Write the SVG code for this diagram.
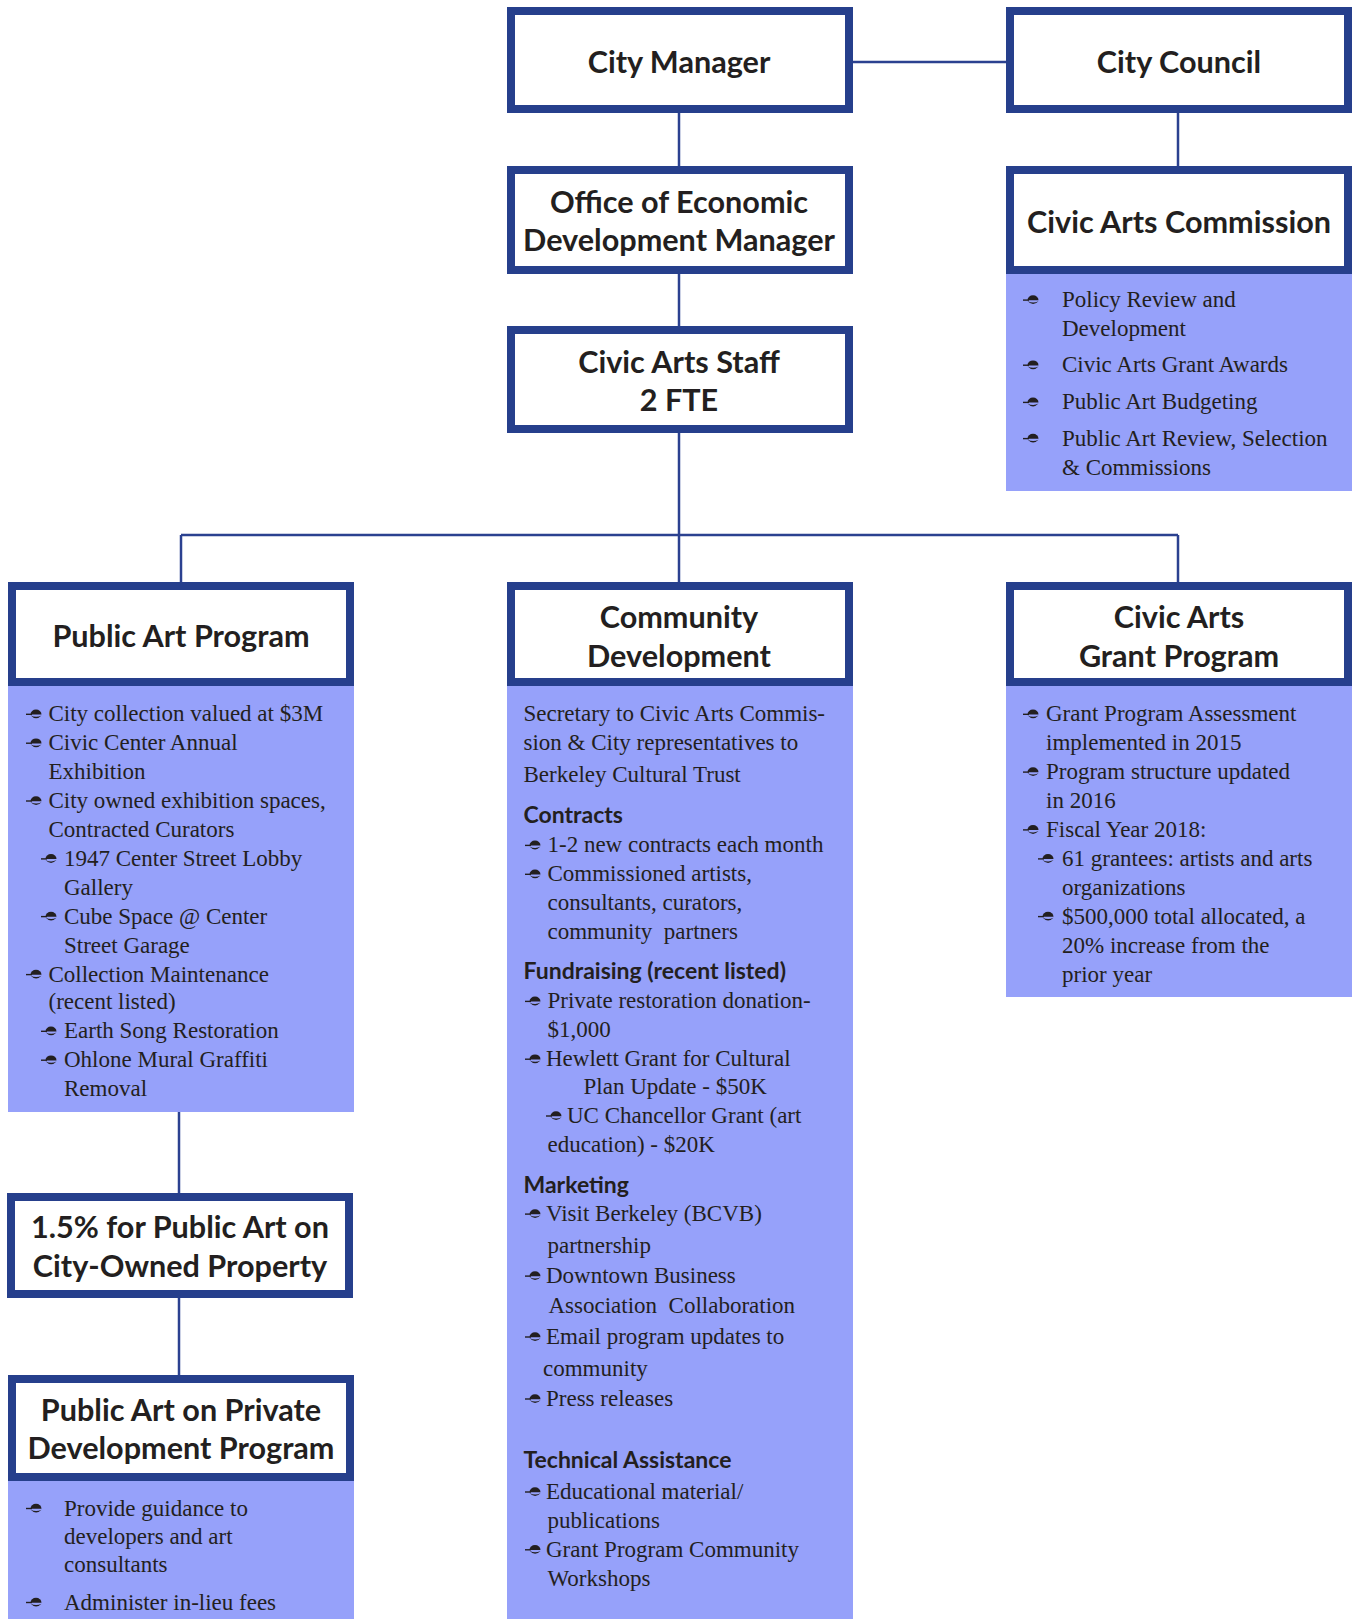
<svg xmlns="http://www.w3.org/2000/svg" xmlns:xlink="http://www.w3.org/1999/xlink" width="1354" height="1619" viewBox="0 0 1354 1619">
<style>
.box{fill:#ffffff;stroke:#263f8c;stroke-width:8}
.pane{fill:#96a1fa}
.ttl{font-family:Lato,"Open Sans",sans-serif;font-weight:700;font-size:30.6px;fill:#231f20;text-anchor:middle}
.hd{font-family:Lato,"Open Sans",sans-serif;font-weight:700;font-size:23px;fill:#231f20}
.tx{font-family:"Liberation Serif","Times New Roman",serif;font-size:23px;fill:#231f20}
.ln{stroke:#2b4190;stroke-width:2.5;fill:none}
</style>
<defs>
<g id="bl">
<path d="M-8,0.6 H-2" stroke="#231f20" stroke-width="1.4"/>
<path d="M-3.5,0.8 A5.5,5 0 0 1 7.5,0.8 Z" fill="#231f20"/>
<path d="M-3.5,1.6 Q2,7.5 7.5,1.8 Q2,4.5 -3.5,1.6 Z" fill="#231f20"/>
</g>
</defs>
<rect width="1354" height="1619" fill="#ffffff"/>
<g id="connectors">
<path class="ln" d="M853,62 H1006"/>
<path class="ln" d="M679,113 V166"/>
<path class="ln" d="M679,274 V326"/>
<path class="ln" d="M679,433 V582"/>
<path class="ln" d="M181,535 H1178"/>
<path class="ln" d="M181,535 V582"/>
<path class="ln" d="M1178,535 V582"/>
<path class="ln" d="M1178,113 V166"/>
<path class="ln" d="M179,1112 V1193"/>
<path class="ln" d="M179,1298 V1375"/>
</g>
<g id="city-manager">
<rect class="box" x="511" y="11" width="338" height="98"/>
<text class="ttl" x="679" y="72.5">City Manager</text>
</g>
<g id="city-council">
<rect class="box" x="1010" y="11" width="338" height="98"/>
<text class="ttl" x="1179" y="72.5">City Council</text>
</g>
<g id="office-econ-dev">
<rect class="box" x="511" y="170" width="338" height="100"/>
<text class="ttl" x="679" y="212.5">Office of Economic</text>
<text class="ttl" x="679" y="251">Development Manager</text>
</g>
<g id="civic-arts-commission">
<rect class="pane" x="1006" y="274" width="346" height="217"/>
<rect class="box" x="1010" y="170" width="338" height="100"/>
<text class="ttl" x="1179" y="232.5">Civic Arts Commission</text>
<use href="#bl" x="1031" y="299.5"/>
<use href="#bl" x="1031" y="364.6"/>
<use href="#bl" x="1031" y="401.8"/>
<use href="#bl" x="1031" y="438"/>
<text class="tx" x="1062" y="307">Policy Review and</text>
<text class="tx" x="1062" y="336">Development</text>
<text class="tx" x="1062" y="372">Civic Arts Grant Awards</text>
<text class="tx" x="1062" y="409">Public Art Budgeting</text>
<text class="tx" x="1062" y="445.5">Public Art Review, Selection</text>
<text class="tx" x="1062" y="474.5">&amp; Commissions</text>
</g>
<g id="civic-arts-staff">
<rect class="box" x="511" y="330" width="338" height="99"/>
<text class="ttl" x="679" y="373">Civic Arts Staff</text>
<text class="ttl" x="679" y="411">2 FTE</text>
</g>
<g id="public-art-program">
<rect class="pane" x="8" y="686" width="346" height="426"/>
<rect class="box" x="12" y="586" width="338" height="96"/>
<text class="ttl" x="181" y="646.5">Public Art Program</text>
<use href="#bl" x="34" y="713.7"/>
<use href="#bl" x="34" y="742.6"/>
<use href="#bl" x="34" y="800.4"/>
<use href="#bl" x="49" y="858.3"/>
<use href="#bl" x="49" y="916"/>
<use href="#bl" x="34" y="974"/>
<use href="#bl" x="49" y="1030.7"/>
<use href="#bl" x="49" y="1059.6"/>
<text class="tx" x="48.5" y="721">City collection valued at $3M</text>
<text class="tx" x="48.5" y="750">Civic Center Annual</text>
<text class="tx" x="48.5" y="779">Exhibition</text>
<text class="tx" x="48.5" y="808">City owned exhibition spaces,</text>
<text class="tx" x="48.5" y="837">Contracted Curators</text>
<text class="tx" x="64" y="866">1947 Center Street Lobby</text>
<text class="tx" x="64" y="895">Gallery</text>
<text class="tx" x="64" y="923.5">Cube Space @ Center</text>
<text class="tx" x="64" y="952.5">Street Garage</text>
<text class="tx" x="48.5" y="981.5">Collection Maintenance</text>
<text class="tx" x="48.5" y="1009">(recent listed)</text>
<text class="tx" x="64" y="1038">Earth Song Restoration</text>
<text class="tx" x="64" y="1067">Ohlone Mural Graffiti</text>
<text class="tx" x="64" y="1096">Removal</text>
</g>
<g id="community-development">
<rect class="pane" x="507" y="686" width="346" height="933"/>
<rect class="box" x="511" y="586" width="338" height="96"/>
<text class="ttl" x="679" y="628">Community</text>
<text class="ttl" x="679" y="667">Development</text>
<text class="tx" x="523.5" y="721">Secretary to Civic Arts Commis-</text>
<text class="tx" x="523.5" y="750">sion &amp; City representatives to</text>
<text class="tx" x="523.5" y="782">Berkeley Cultural Trust</text>
<text class="hd" x="523.5" y="823">Contracts</text>
<use href="#bl" x="533" y="844.8"/>
<use href="#bl" x="533" y="873.7"/>
<text class="tx" x="547.5" y="852">1-2 new contracts each month</text>
<text class="tx" x="547.5" y="881">Commissioned artists,</text>
<text class="tx" x="547.5" y="910">consultants, curators,</text>
<text class="tx" x="547.5" y="939" xml:space="preserve">community  partners</text>
<text class="hd" x="523.5" y="979">Fundraising (recent listed)</text>
<use href="#bl" x="533" y="1000.8"/>
<use href="#bl" x="533" y="1058.6"/>
<use href="#bl" x="554" y="1115.4"/>
<text class="tx" x="547.5" y="1008">Private restoration donation-</text>
<text class="tx" x="547.5" y="1037">$1,000</text>
<text class="tx" x="546" y="1066">Hewlett Grant for Cultural</text>
<text class="tx" x="583.5" y="1094">Plan Update - $50K</text>
<text class="tx" x="567" y="1123">UC Chancellor Grant (art</text>
<text class="tx" x="547.5" y="1152">education) - $20K</text>
<text class="hd" x="523.5" y="1193">Marketing</text>
<use href="#bl" x="533" y="1213.5"/>
<use href="#bl" x="533" y="1275.5"/>
<use href="#bl" x="533" y="1336.4"/>
<use href="#bl" x="533" y="1398.4"/>
<text class="tx" x="546" y="1221">Visit Berkeley (BCVB)</text>
<text class="tx" x="547.5" y="1253">partnership</text>
<text class="tx" x="546" y="1283">Downtown Business</text>
<text class="tx" x="548.5" y="1313" xml:space="preserve">Association  Collaboration</text>
<text class="tx" x="546" y="1344">Email program updates to</text>
<text class="tx" x="543" y="1376">community</text>
<text class="tx" x="546" y="1406">Press releases</text>
<text class="hd" x="523.5" y="1467.5">Technical Assistance</text>
<use href="#bl" x="533" y="1491.4"/>
<use href="#bl" x="533" y="1549.2"/>
<text class="tx" x="546" y="1499">Educational material/</text>
<text class="tx" x="547.5" y="1528">publications</text>
<text class="tx" x="546" y="1557">Grant Program Community</text>
<text class="tx" x="547.5" y="1585.5">Workshops</text>
</g>
<g id="civic-arts-grant-program">
<rect class="pane" x="1006" y="686" width="346" height="311"/>
<rect class="box" x="1010" y="586" width="338" height="96"/>
<text class="ttl" x="1179" y="628">Civic Arts</text>
<text class="ttl" x="1179" y="667">Grant Program</text>
<use href="#bl" x="1031" y="713.7"/>
<use href="#bl" x="1031" y="771.5"/>
<use href="#bl" x="1031" y="829.3"/>
<use href="#bl" x="1046" y="858.3"/>
<use href="#bl" x="1046" y="916"/>
<text class="tx" x="1046" y="721">Grant Program Assessment</text>
<text class="tx" x="1046" y="750">implemented in 2015</text>
<text class="tx" x="1046" y="779">Program structure updated</text>
<text class="tx" x="1046" y="808">in 2016</text>
<text class="tx" x="1046" y="837">Fiscal Year 2018:</text>
<text class="tx" x="1062" y="866">61 grantees: artists and arts</text>
<text class="tx" x="1062" y="895">organizations</text>
<text class="tx" x="1062" y="923.5">$500,000 total allocated, a</text>
<text class="tx" x="1062" y="952.5">20% increase from the</text>
<text class="tx" x="1062" y="981.5">prior year</text>
</g>
<g id="one-point-five-percent">
<rect class="box" x="11" y="1197" width="338" height="97"/>
<text class="ttl" x="180" y="1238">1.5% for Public Art on</text>
<text class="ttl" x="180" y="1276.5">City-Owned Property</text>
</g>
<g id="public-art-private-dev">
<rect class="pane" x="8" y="1481" width="346" height="138"/>
<rect class="box" x="12" y="1379" width="338" height="98"/>
<text class="ttl" x="181" y="1421">Public Art on Private</text>
<text class="ttl" x="181" y="1459">Development Program</text>
<use href="#bl" x="34" y="1507.9"/>
<use href="#bl" x="34" y="1601.9"/>
<text class="tx" x="64" y="1515.5">Provide guidance to</text>
<text class="tx" x="64" y="1543.5">developers and art</text>
<text class="tx" x="64" y="1572">consultants</text>
<text class="tx" x="64" y="1609.5">Administer in-lieu fees</text>
</g>
</svg>
